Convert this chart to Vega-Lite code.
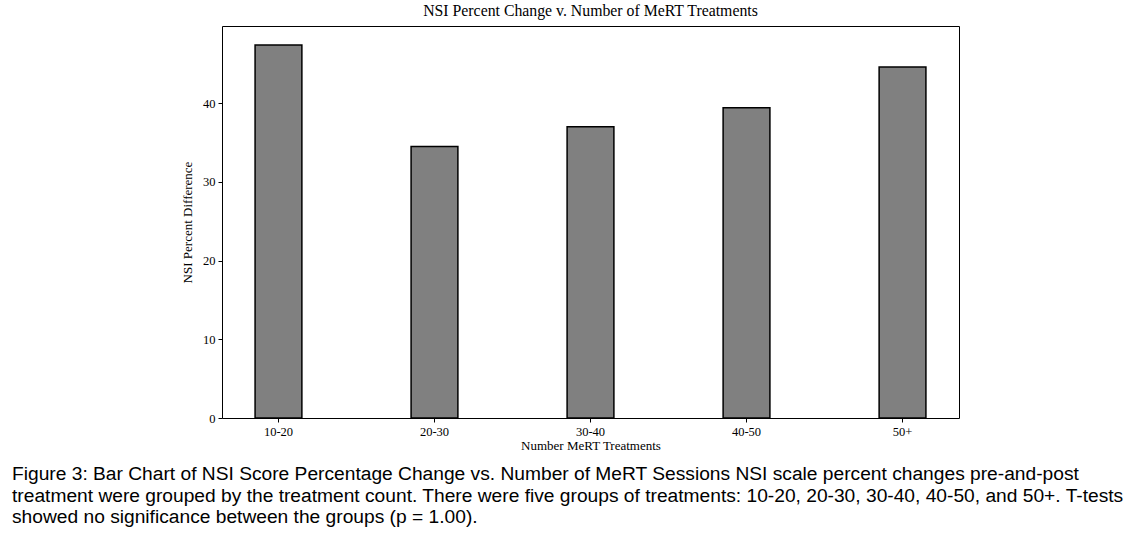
{
  "$schema": "https://vega.github.io/schema/vega-lite/v6.json",
  "background": "white",
  "padding": {"left": 12, "top": 2, "right": 5, "bottom": 5},
  "config": {
    "view": {"stroke": "black", "strokeWidth": 1},
    "axis": {
      "labelFont": "Liberation Serif",
      "labelFontSize": 12.5,
      "labelColor": "black",
      "titleFont": "Liberation Serif",
      "titleFontSize": 13,
      "titleFontWeight": "normal",
      "titleColor": "black",
      "tickColor": "black",
      "tickSize": 4,
      "domainColor": "black",
      "grid": false
    }
  },
  "title": {
    "text": [
      "Figure 3: Bar Chart of NSI Score Percentage Change vs. Number of MeRT Sessions NSI scale percent changes pre-and-post",
      "treatment were grouped by the treatment count. There were five groups of treatments: 10-20, 20-30, 30-40, 40-50, and 50+. T-tests",
      "showed no significance between the groups (p = 1.00)."
    ],
    "orient": "bottom",
    "anchor": "start",
    "frame": "bounds",
    "dx": -169,
    "font": "Liberation Sans",
    "fontSize": 19.2,
    "fontWeight": "normal",
    "color": "black",
    "lineHeight": 21.5,
    "offset": 12
  },
  "vconcat": [
    {
      "width": 737,
      "height": 392,
      "title": {
        "text": "NSI Percent Change v. Number of MeRT Treatments",
        "font": "Liberation Serif",
        "fontSize": 15.8,
        "fontWeight": "normal",
        "color": "black",
        "offset": 6
      },
      "data": {
        "values": [
          {"group": "10-20", "value": 47.4},
          {"group": "20-30", "value": 34.5},
          {"group": "30-40", "value": 37.0},
          {"group": "40-50", "value": 39.4},
          {"group": "50+", "value": 44.6}
        ]
      },
      "mark": {"type": "bar", "fill": "#808080", "stroke": "black", "strokeWidth": 1.5},
      "encoding": {
        "x": {
          "field": "group",
          "type": "nominal",
          "sort": null,
          "scale": {"paddingInner": 0.7, "paddingOuter": 0.212},
          "axis": {"title": "Number MeRT Treatments", "labelAngle": 0, "labelPadding": 3, "titlePadding": 2, "domain": false}
        },
        "y": {
          "field": "value",
          "type": "quantitative",
          "scale": {"domain": [0, 49.8], "nice": false},
          "axis": {"title": "NSI Percent Difference", "values": [0, 10, 20, 30, 40], "labelPadding": 3, "titlePadding": 8, "domain": false}
        }
      }
    }
  ]
}
